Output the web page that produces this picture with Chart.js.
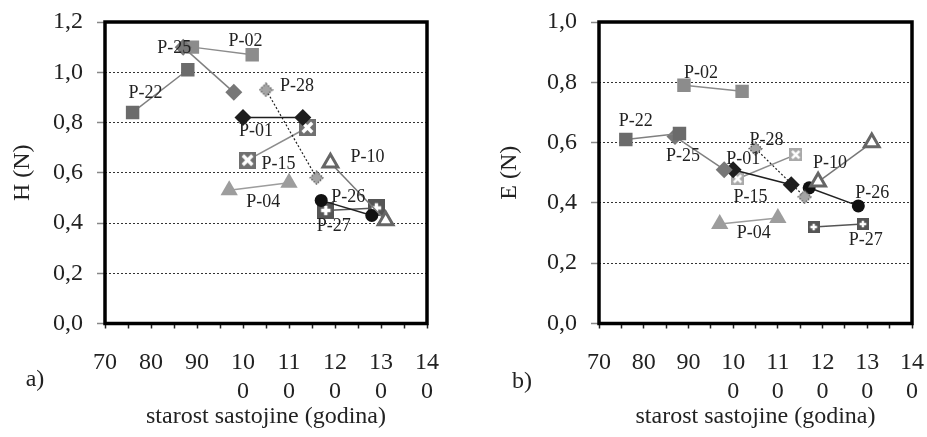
<!DOCTYPE html>
<html><head><meta charset="utf-8">
<script src="https://cdn.jsdelivr.net/npm/chart.js@4.4.1/dist/chart.umd.min.js"></script>
<style>
html,body{margin:0;padding:0;background:#fff;width:927px;height:437px;overflow:hidden}
canvas{position:absolute;top:0}
#ca{left:0}
#cb{left:463px}
</style></head><body>
<canvas id="ca" width="463" height="437"></canvas>
<canvas id="cb" width="464" height="437"></canvas>
<script>
// ---- data ----
const stands    = ['P-22','P-25','P-02','P-28','P-01','P-15','P-04','P-10','P-26','P-27'];
const ageFirst  = [76, 87, 89, 105, 100, 101, 97, 119, 117, 118];
const ageSecond = [88, 98, 102, 116, 113, 114, 110, 131, 128, 129];
const hFirst    = [0.84, 1.10, 1.10, 0.93, 0.82, 0.65, 0.53, 0.64, 0.49, 0.45];
const hSecond   = [1.01, 0.92, 1.07, 0.58, 0.82, 0.78, 0.56, 0.41, 0.43, 0.46];
const eFirst    = [0.61, 0.62, 0.79, 0.58, 0.51, 0.48, 0.33, 0.47, 0.45, 0.32];
const eSecond   = [0.63, 0.51, 0.77, 0.42, 0.46, 0.56, 0.35, 0.60, 0.39, 0.33];
const xTickValues = [70, 80, 90, 100, 110, 120, 130, 140];
const yTicksH = [0, 0.2, 0.4, 0.6, 0.8, 1.0, 1.2];
const yTicksE = [0, 0.2, 0.4, 0.6, 0.8, 1.0];

// ---- marker images ----
function squareMark(size, fill, glyph){
  const c=document.createElement('canvas'); c.width=c.height=size;
  const g=c.getContext('2d'); g.fillStyle=fill; g.fillRect(0,0,size,size);
  g.strokeStyle='#fff'; g.lineWidth=Math.max(2,size*0.2); g.beginPath();
  const a=size*0.22, b=size*0.78, m=size/2;
  if(glyph==='x'){ g.moveTo(a,a); g.lineTo(b,b); g.moveTo(b,a); g.lineTo(a,b); }
  else { g.moveTo(m,a); g.lineTo(m,b); g.moveTo(a,m); g.lineTo(b,m); }
  g.stroke(); return c;
}
function dottedDiamond(size){
  const c=document.createElement('canvas'); c.width=c.height=size;
  const g=c.getContext('2d'); const m=size/2, r=size/2-1;
  g.beginPath(); g.moveTo(m,m-r); g.lineTo(m+r,m); g.lineTo(m,m+r); g.lineTo(m-r,m); g.closePath();
  g.fillStyle='#a4a4a4'; g.fill(); g.setLineDash([1.5,1.5]); g.strokeStyle='#444'; g.lineWidth=1.2; g.stroke();
  return c;
}

function styleFor(i, panel){
  const big = panel==='a';
  switch(stands[i]){
    case 'P-22': return {ps:'rect', r:9.5, bg:'#6b6b6b', bc:'#6b6b6b', bw:0, lc:'#808080', lw:1.5, dash:[]};
    case 'P-25': return {ps:'rectRot', r:8.5, bg:'#777777', bc:'#777777', bw:0, lc:'#808080', lw:1.5, dash:[]};
    case 'P-02': return {ps:'rect', r:9.5, bg:'#8c8c8c', bc:'#8c8c8c', bw:0, lc:'#8c8c8c', lw:1.5, dash:[]};
    case 'P-28': return {ps:dottedDiamond(15), r:7, bg:'#a4a4a4', bc:'#555', bw:0, lc:'#222', lw:1.2, dash:[2,2]};
    case 'P-01': return {ps:'rectRot', r:8.5, bg:'#1e1e1e', bc:'#1e1e1e', bw:0, lc:'#1e1e1e', lw:1.5, dash:[]};
    case 'P-15': return {ps: big?squareMark(17,'#707070','x'):squareMark(13,'#a9a9a9','x'), r:8, bg:'#707070', bc:'#707070', bw:0, lc:'#8c8c8c', lw:1.5, dash:[]};
    case 'P-04': return {ps:'triangle', r:10, bg:'#9d9d9d', bc:'#9d9d9d', bw:0, lc:'#9d9d9d', lw:1.5, dash:[]};
    case 'P-10': return {ps:'triangle', r:8.5, bg:'#ffffff', bc:'#666666', bw:3, lc:'#777777', lw:1.5, dash:[]};
    case 'P-26': return {ps:'circle', r:6.5, bg:'#111111', bc:'#111111', bw:0, lc:'#222222', lw:1.5, dash:[]};
    case 'P-27': return {ps: big?squareMark(17,'#555555','+'):squareMark(12,'#555555','+'), r:8, bg:'#555', bc:'#555', bw:0, lc:'#555555', lw:1.5, dash:[]};
  }
}

const serif = '"Liberation Serif", "DejaVu Serif", serif';

const framePlugin = {
  id:'frame',
  beforeDatasetsDraw(chart){
    const {ctx, chartArea:a} = chart;
    ctx.save(); ctx.strokeStyle='#000'; ctx.lineWidth=3.5;
    ctx.strokeRect(a.left, a.top, a.right-a.left, a.bottom-a.top);
    ctx.restore();
  }
};
const labelPlugin = {
  id:'plabels',
  afterDatasetsDraw(chart, args, opts){
    const ctx = chart.ctx; ctx.save();
    ctx.font = '18px ' + serif; ctx.fillStyle = '#222';
    ctx.textAlign='center'; ctx.textBaseline='middle';
    chart.data.datasets.forEach((ds, i) => {
      const p = chart.getDatasetMeta(i).data[0];
      const off = opts.offsets[ds.label];
      ctx.fillText(ds.label, p.x + off[0], p.y + off[1]);
    });
    ctx.font = '24px ' + serif; ctx.fillStyle='#222';
    ctx.fillText(opts.letter, opts.letterPos[0], opts.letterPos[1]);
    ctx.restore();
  }
};

function build(id, panel, yFirst, ySecond, yTicks, yTitle, yWidth, titlePad, padRight, offsets, letter, letterPos){
  const datasets = stands.map((s,i) => {
    const st = styleFor(i, panel);
    return {
      label: s,
      data: [{x:ageFirst[i], y:yFirst[i]}, {x:ageSecond[i], y:ySecond[i]}],
      showLine: true, borderColor: st.lc, borderWidth: st.lw, borderDash: st.dash,
      pointStyle: st.ps, pointRadius: st.r, pointHoverRadius: st.r,
      pointBackgroundColor: st.bg, pointBorderColor: st.bc, pointBorderWidth: st.bw
    };
  });
  return new Chart(document.getElementById(id), {
    type: 'scatter',
    data: { datasets },
    options: {
      responsive:false, animation:false,
      layout:{padding:{top:22, right:padRight, left:0, bottom:0}},
      plugins:{ legend:{display:false}, tooltip:{enabled:false},
        plabels:{offsets, letter, letterPos} },
      scales:{
        x:{
          type:'linear', min:xTickValues[0], max:xTickValues[xTickValues.length-1],
          afterBuildTicks(s){ const t=[]; for(let v=xTickValues[0]; v<=xTickValues[xTickValues.length-1]; v+=5) t.push({value:v}); s.ticks=t; },
          afterFit(s){ s.height = 113.5; s.paddingLeft = 0; s.paddingRight = 0; },
          ticks:{ autoSkip:false, maxRotation:0, padding:20, color:'#222', font:{family:serif, size:24},
            callback(v){ if(!xTickValues.includes(v)) return ''; const t=String(v); return t.length>2 ? [t.slice(0,2), t.slice(2)] : t; } },
          grid:{ drawOnChartArea:false, drawTicks:true, tickLength:5, tickColor:'#222', tickWidth:1.5 },
          border:{display:false},
          title:{display:true, text:'starost sastojine (godina)', color:'#222', font:{family:serif, size:24}, padding:{top:0,bottom:6}}
        },
        y:{
          min:0, max:yTicks[yTicks.length-1],
          afterBuildTicks(s){ s.ticks = yTicks.map(v=>({value:v})); },
          afterFit(s){ s.width = yWidth; s.paddingTop = 0; s.paddingBottom = 0; },
          ticks:{ padding:14, color:'#222', font:{family:serif, size:24},
            callback(v){ return v.toFixed(1).replace('.', ','); } },
          grid:{ color:'#333', lineWidth:1, tickLength:8, tickColor:'#888', tickWidth:1.5, tickBorderDash:[] },
          border:{display:false, dash:[2,2]},
          title:{display:true, text:yTitle, color:'#222', font:{family:serif, size:24}, padding:{top:titlePad, bottom:0}}
        }
      }
    },
    plugins:[framePlugin, labelPlugin]
  });
}

const offsA = {'P-22':[13,-19],'P-25':[-9,1],'P-02':[53,-6],'P-28':[31,-4],'P-01':[13,14],
  'P-15':[31,4],'P-04':[34,12],'P-10':[37,-5],'P-26':[27,-3],'P-27':[8,16]};
const offsB = {'P-02':[17,-12],'P-22':[10,-18],'P-25':[8,20],'P-28':[11,-8],'P-01':[10,-10],
  'P-15':[13,18],'P-10':[12,-19],'P-26':[63,5],'P-04':[34,9],'P-27':[52,13]};

build('ca','a', hFirst, hSecond, yTicksH, 'H (N)', 105, 8, 36, offsA, 'a)', [35,380]);
build('cb','b', eFirst, eSecond, yTicksE, 'E (N)', 136, 32, 15, offsB, 'b)', [59,382]);
</script>
</body></html>
